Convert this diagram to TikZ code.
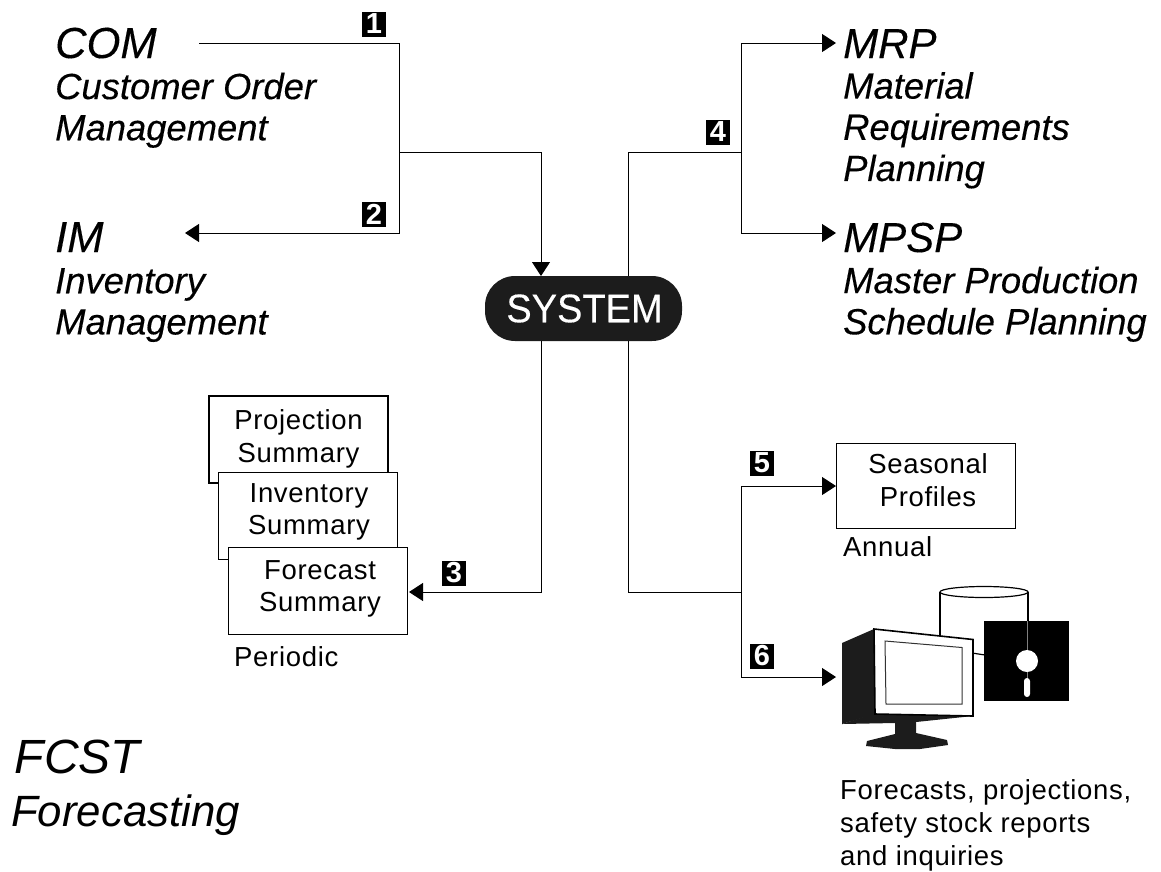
\documentclass[tikz,border=0pt]{standalone}
\usepackage{fontspec}
\setmainfont{Liberation Sans}
\newfontfamily\widefont[LetterSpace=2.5]{Liberation Sans}
\newfontfamily\heavyfont[FakeBold=0.25]{Liberation Sans}
\usetikzlibrary{arrows.meta}
\definecolor{inkblack}{HTML}{1C1C1C}
\begin{document}
\begin{tikzpicture}[x=1pt, y=-1pt]
        \tikzstyle{title_text}  = [anchor=base west, inner sep=0pt, font=\fontsize{43.5}{44}\selectfont\heavyfont\itshape]
        \tikzstyle{desc_text}   = [anchor=north west, inner sep=0pt, align=left, font=\fontsize{36.4}{41.2}\selectfont\heavyfont\itshape]
        \tikzstyle{plain_text}  = [anchor=base west, inner sep=0pt, align=left, font=\fontsize{27.5}{33}\selectfont\widefont]
        \tikzstyle{report_box}  = [shape=rectangle, draw=black, fill=white, line width=1pt, minimum width=179pt, inner sep=0pt]
        \tikzstyle{report_text} = [inner sep=0pt, align=center, font=\fontsize{27.5}{32.5}\selectfont\widefont]
        \tikzstyle{badge}       = [shape=rectangle, fill=black, text=white, minimum width=24pt, minimum height=25pt, inner sep=0pt, font=\fontsize{29}{29}\selectfont\bfseries]
        \tikzstyle{flow}        = [draw=black, line width=1pt]
        \tikzstyle{flow_arrow}  = [flow, -{Triangle[length=14pt, width=18pt]}]

        \useasboundingbox (0,0) rectangle (1161,871);

        \node[title_text] at (55,58) (com) {COM};
        \node[desc_text] at (55,72.5) (com_d) {Customer Order\\Management};
        \node[title_text] at (55,252) (im) {IM};
        \node[desc_text] at (55,268) (im_d) {Inventory\\Management};

        \node[title_text, font=\fontsize{42}{44}\selectfont\heavyfont\itshape] at (843,58) (mrp) {MRP};
        \node[desc_text] at (843,72) (mrp_d) {Material\\Requirements\\Planning};
        \node[title_text, font=\fontsize{42}{44}\selectfont\heavyfont\itshape] at (843,252) (mpsp) {MPSP};
        \node[desc_text] at (843,266.5) (mpsp_d) {Master Production\\Schedule Planning};

        \node[title_text, font=\fontsize{48}{48}\selectfont\itshape] at (14.5,773) (fcst) {FCST};
        \node[title_text, font=\fontsize{43.8}{44}\selectfont\itshape] at (11,826) (fcst_d) {Forecasting};

        \node[shape=rectangle, fill=inkblack, text=white, rounded corners=30pt, minimum width=197pt, minimum height=65pt, inner sep=0pt] at (583.5,308.5) (system) {};
        \node[inner sep=0pt, text=white, font=\fontsize{40}{40}\selectfont\heavyfont\addfontfeature{FakeStretch=0.95}] at (584.5,308.5) (system_t) {SYSTEM};

        \node[report_box, minimum height=87pt, line width=1.8pt] at (298.5,439.5) (projection) {};
        \node[report_box, minimum height=87pt] at (307.5,515.5) (inventory) {};
        \node[report_box, minimum height=87pt] at (317.5,590.5) (forecast) {};
        \node[report_text] at (298.5,439) (projection_t) {Projection\\Summary};
        \node[report_text] at (309,512) (inventory_t) {Inventory\\Summary};
        \node[report_text] at (320,589) (forecast_t) {Forecast\\Summary};
        \node[plain_text] at (234,666) (periodic) {Periodic};

        \node[report_box, minimum height=85pt] at (925.5,485.5) (seasonal) {};
        \node[report_text] at (928,480) (seasonal_t) {Seasonal\\Profiles};
        \node[plain_text] at (843,556) (annual) {Annual};
        \node[plain_text] at (840,865) (reports) {Forecasts, projections,\\safety stock reports\\and inquiries};

        \node[badge] at (374,24) (b1) {1};
        \node[badge] at (374,214) (b2) {2};
        \node[badge] at (454,573) (b3) {3};
        \node[badge] at (718,132) (b4) {4};
        \node[badge] at (762,463) (b5) {5};
        \node[badge] at (762,656) (b6) {6};

        \coordinate (com_out) at (199,43);
        \coordinate (im_in) at (185,233);
        \coordinate (left_top) at (399,43);
        \coordinate (left_bot) at (399,233);
        \coordinate (left_mid) at (399,152);
        \coordinate (sys_in) at (541,276);
        \coordinate (sys_out3) at (541,341);
        \coordinate (sys_up) at (628,276);
        \coordinate (sys_down) at (628,341);
        \coordinate (hub4) at (741,152);
        \coordinate (hub56) at (741,592);
        \coordinate (mrp_in) at (836,43);
        \coordinate (mpsp_in) at (836,233);
        \coordinate (seasonal_in) at (836,486);
        \coordinate (monitor_in) at (836,677);
        \coordinate (forecast_in) at (409,592);

        \draw[flow_arrow] (com_out) -- (left_top) -- (left_bot) -- (im_in);
        \draw[flow_arrow] (left_mid) -| (sys_in);
        \draw[flow_arrow] (sys_out3) |- (forecast_in);
        \draw[flow] (sys_up) |- (hub4);
        \draw[flow_arrow] (hub4) |- (mrp_in);
        \draw[flow_arrow] (hub4) |- (mpsp_in);
        \draw[flow] (sys_down) |- (hub56);
        \draw[flow_arrow] (hub56) |- (seasonal_in);
        \draw[flow_arrow] (hub56) |- (monitor_in);

        \draw[line width=1.2pt] (940,592) -- (940,640);
        \draw[line width=1.2pt] (1028,592) -- (1028,625);
        \draw[line width=1.2pt, fill=white] (984,592) ellipse (44pt and 5.5pt);
        \draw[line width=1.2pt] (972,653) -- (985,655);

        \fill[black] (984,621) rectangle (1069,701);
        \draw[gray, line width=0.8pt] (1027,621) -- (1027,680);
        \fill[white] (1027,661) circle (11pt);
        \fill[white, rounded corners=3pt] (1024,678) rectangle (1030,697);

        \fill[inkblack] (842,643) -- (874,629) -- (875,714) -- (842,724) -- cycle;
        \fill[inkblack] (842,724) -- (875,713) -- (973,716) -- (916,722) -- (916,733) -- (947,740) -- (948,745) -- (920,749) -- (895,749) -- (866,746) -- (867,741) -- (895,734) -- (895,723) -- cycle;
        \draw[black, line width=1.6pt, fill=white] (874,629) -- (973,639.5) -- (973,716) -- (875,714) -- cycle;
        \draw[black!80, line width=1pt, fill=white] (885,641) -- (962,647.5) -- (962,704) -- (886,704) -- cycle;
      \end{tikzpicture}
\end{document}
